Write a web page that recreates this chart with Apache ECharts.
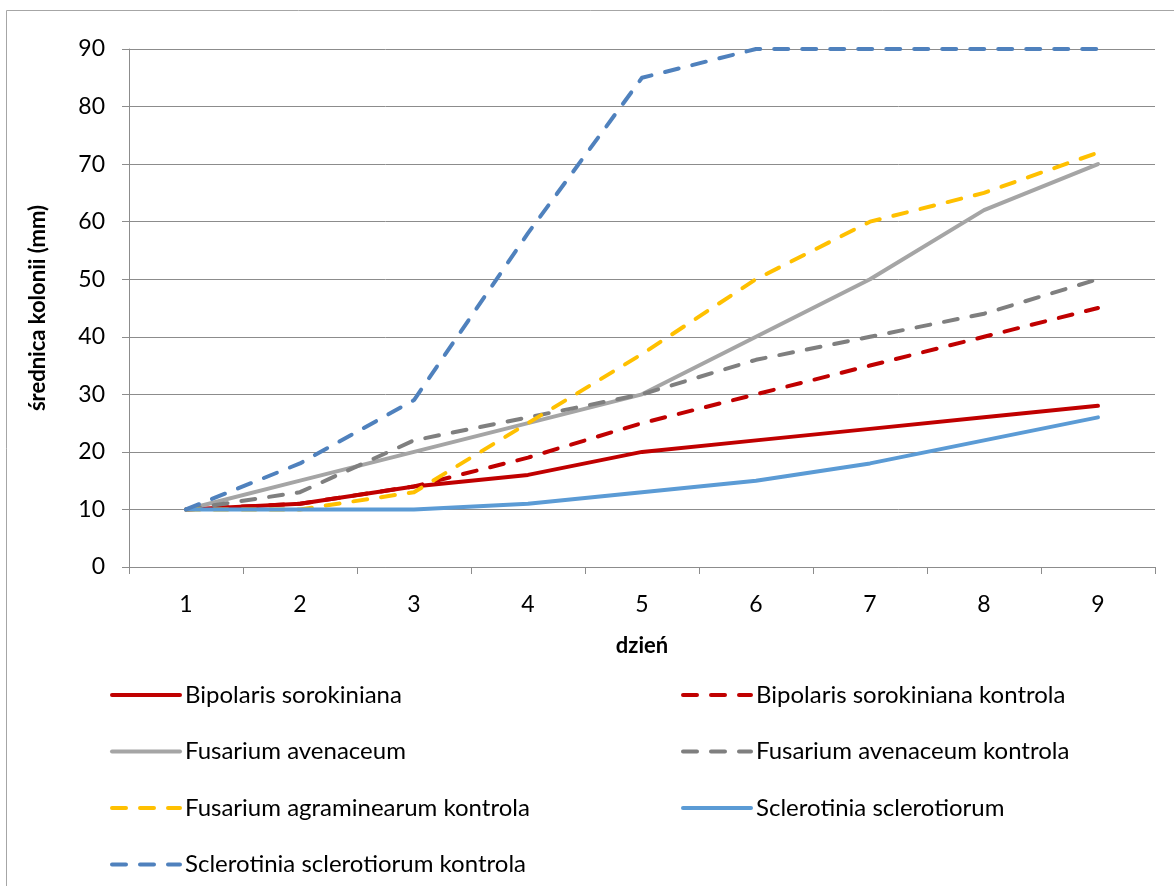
<!DOCTYPE html>
<html>
<head>
<meta charset="utf-8">
<script src="https://cdn.jsdelivr.net/npm/echarts@6/dist/echarts.min.js"></script>
<style>
  html, body { margin: 0; padding: 0; background: #ffffff; }
  #chart { width: 1174px; height: 886px; }
</style>
</head>
<body>
<div id="chart"></div>
<script>
// Day of measurement
const days = ['1', '2', '3', '4', '5', '6', '7', '8', '9'];

// Mean colony diameter (mm) per day
const bipolaris        = [10, 11, 14, 16, 20, 22, 24, 26, 28];
const bipolarisCtrl    = [10, 11, 14, 19, 25, 30, 35, 40, 45];
const fusAvenaceum     = [10, 15, 20, 25, 30, 40, 50, 62, 70];
const fusAvenaceumCtrl = [10, 13, 22, 26, 30, 36, 40, 44, 50];
const fusGramCtrl      = [10, 10, 13, 25, 37, 50, 60, 65, 72];
const sclerotinia      = [10, 10, 10, 11, 13, 15, 18, 22, 26];
const sclerotiniaCtrl  = [10, 18, 29, 58, 85, 90, 90, 90, 90];

const names = [
  'Bipolaris sorokiniana',
  'Bipolaris sorokiniana kontrola',
  'Fusarium avenaceum',
  'Fusarium avenaceum kontrola',
  'Fusarium agraminearum kontrola',
  'Sclerotinia sclerotiorum',
  'Sclerotinia sclerotiorum kontrola'
];

const FONT = 'Lato';
const DASH = [14, 14];
const LINE_W = 4;

function line(name, data, color, dashed) {
  return {
    name: name,
    type: 'line',
    data: data,
    symbol: 'none',
    smooth: false,
    lineStyle: {
      color: color,
      width: LINE_W,
      type: dashed ? DASH : 'solid',
      cap: 'round',
      join: 'round'
    },
    itemStyle: { color: color }
  };
}

// One legend per entry so the two columns line up like a table
const legendRows = [683, 739.5, 796, 852.5];
function legendItem(name, col, row) {
  return {
    show: true,
    orient: 'horizontal',
    left: col === 0 ? 110 : 681,
    top: legendRows[row],
    padding: 0,
    itemWidth: 68,
    itemHeight: 24,
    selectedMode: false,
    itemStyle: { opacity: 0 },
    lineStyle: { width: LINE_W, cap: 'round' },
    textStyle: { fontFamily: FONT, fontSize: 24, color: '#000000' },
    data: [name]
  };
}

const chart = echarts.init(document.getElementById('chart'), null, { renderer: 'canvas' });

chart.setOption({
  backgroundColor: '#ffffff',
  animation: false,
  graphic: [{
    type: 'rect',
    shape: { x: 6.5, y: 10.5, width: 1300, height: 1000 },
    style: { fill: 'none', stroke: '#a6a6a6', lineWidth: 1 },
    silent: true,
    z: -1
  }],
  grid: { left: 129, right: 19, top: 49, bottom: 319 },
  xAxis: {
    type: 'category',
    data: days,
    boundaryGap: true,
    name: 'dzień',
    nameLocation: 'middle',
    nameGap: 68,
    nameTextStyle: { fontFamily: FONT, fontSize: 22, fontWeight: 'bold', color: '#000000' },
    axisLine: { lineStyle: { color: '#8c8c8c', width: 1 } },
    axisTick: { show: true, length: 7, lineStyle: { color: '#8c8c8c' } },
    axisLabel: { fontFamily: FONT, fontSize: 23, color: '#000000', margin: 26 },
    splitLine: { show: false }
  },
  yAxis: {
    type: 'value',
    min: 0,
    max: 90,
    interval: 10,
    name: 'średnica kolonii (mm)',
    nameLocation: 'middle',
    nameGap: 80,
    nameTextStyle: { fontFamily: FONT, fontSize: 22, fontWeight: 'bold', color: '#000000' },
    axisLine: { show: true, lineStyle: { color: '#8c8c8c', width: 1 } },
    axisTick: { show: true, length: 7, lineStyle: { color: '#8c8c8c' } },
    axisLabel: { fontFamily: FONT, fontSize: 23, color: '#000000', margin: 24 },
    splitLine: { show: true, lineStyle: { color: '#8c8c8c', width: 1 } }
  },
  legend: [
    legendItem(names[0], 0, 0),
    legendItem(names[1], 1, 0),
    legendItem(names[2], 0, 1),
    legendItem(names[3], 1, 1),
    legendItem(names[4], 0, 2),
    legendItem(names[5], 1, 2),
    legendItem(names[6], 0, 3)
  ],
  series: [
    line(names[0], bipolaris, '#C00000', false),
    line(names[1], bipolarisCtrl, '#C00000', true),
    line(names[2], fusAvenaceum, '#A5A5A5', false),
    line(names[3], fusAvenaceumCtrl, '#7F7F7F', true),
    line(names[4], fusGramCtrl, '#FFC000', true),
    line(names[5], sclerotinia, '#5B9BD5', false),
    line(names[6], sclerotiniaCtrl, '#4F81BD', true)
  ]
});
</script>
</body>
</html>
